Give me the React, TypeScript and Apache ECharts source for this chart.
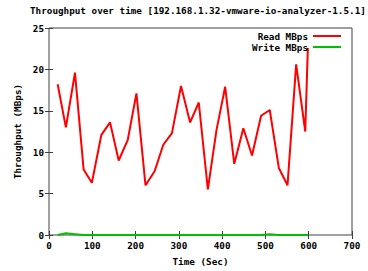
import React, { useEffect, useRef } from "react";
import * as echarts from "echarts";

const titleText = "Throughput over time [192.168.1.32-vmware-io-analyzer-1.5.1]";
const times = [20, 39, 60, 80, 99, 121, 141, 161, 182, 202, 223, 244, 264, 284, 305, 326, 346, 367, 387, 407, 428, 449, 469, 490, 510, 531, 551, 571, 592, 598];
const readMBps = [18.2, 13.0, 19.6, 7.9, 6.3, 12.1, 13.6, 9.0, 11.5, 17.1, 6.0, 7.7, 10.9, 12.3, 18.0, 13.6, 16.0, 5.5, 12.7, 17.9, 8.6, 12.9, 9.6, 14.4, 15.1, 8.1, 6.0, 20.6, 12.5, 22.6];
const writeMBps = [0, 0.2, 0.1, 0, 0, 0, 0, 0, 0, 0, 0, 0, 0, 0, 0, 0, 0, 0, 0, 0, 0, 0, 0, 0, 0.1, 0, 0, 0, 0, 0];

const FONT = "DejaVu Sans Mono";

export default function App() {
  const ref = useRef<HTMLDivElement>(null);
  useEffect(() => {
    if (!ref.current) return;
    const chart = echarts.init(ref.current, null, { renderer: "svg" });
    const tickStyle = { inside: true, length: 4, lineStyle: { color: "#404040", width: 1 } };
    const labelStyle = { fontFamily: FONT, fontWeight: "bold" as const, fontSize: 9.3, color: "#000" };
    chart.setOption({
      animation: false,
      backgroundColor: "#fff",
      title: {
        text: titleText,
        left: 30,
        top: 6,
        padding: 0,
        textStyle: { ...labelStyle, fontSize: 9.3 },
      },
      grid: { left: 49, right: 16, top: 28, bottom: 30, show: true, borderColor: "#404040", borderWidth: 1, backgroundColor: "transparent" },
      legend: {
        right: 27,
        top: 30.5,
        orient: "vertical",
        align: "right",
        icon: "rect",
        itemWidth: 28,
        itemHeight: 2,
        itemGap: 0,
        padding: 0,
        textStyle: { ...labelStyle, lineHeight: 11, padding: [0, 0, 0, 0] },
        data: ["Read MBps", "Write MBps"],
      },
      xAxis: [
        {
          type: "value",
          min: 0,
          max: 700,
          interval: 100,
          position: "bottom",
          name: "Time (Sec)",
          nameLocation: "middle",
          nameGap: 22,
          nameTextStyle: labelStyle,
          axisLine: { show: false },
          axisTick: tickStyle,
          axisLabel: { ...labelStyle, margin: 6 },
          splitLine: { show: false },
        },
        {
          type: "value",
          min: 0,
          max: 700,
          interval: 100,
          position: "top",
          axisLine: { show: false },
          axisTick: tickStyle,
          axisLabel: { show: false },
          splitLine: { show: false },
        },
      ],
      yAxis: [
        {
          type: "value",
          min: 0,
          max: 25,
          interval: 5,
          position: "left",
          name: "Throughput (MBps)",
          nameLocation: "middle",
          nameGap: 26,
          nameTextStyle: labelStyle,
          axisLine: { show: false },
          axisTick: tickStyle,
          axisLabel: { ...labelStyle, margin: 5 },
          splitLine: { show: false },
        },
        {
          type: "value",
          min: 0,
          max: 25,
          interval: 5,
          position: "right",
          axisLine: { show: false },
          axisTick: tickStyle,
          axisLabel: { show: false },
          splitLine: { show: false },
        },
      ],
      series: [
        {
          name: "Read MBps",
          type: "line",
          data: times.map((t, i) => [t, readMBps[i]]),
          showSymbol: false,
          symbol: "none",
          lineStyle: { color: "#ff0000", width: 2 },
          itemStyle: { color: "#ff0000" },
        },
        {
          name: "Write MBps",
          type: "line",
          data: times.map((t, i) => [t, writeMBps[i]]),
          showSymbol: false,
          symbol: "none",
          lineStyle: { color: "#00c000", width: 2 },
          itemStyle: { color: "#00c000" },
        },
      ],
    });
    return () => chart.dispose();
  }, []);
  return <div ref={ref} style={{ width: 368, height: 271, position: "absolute", left: 0, top: 0 }} />;
}
